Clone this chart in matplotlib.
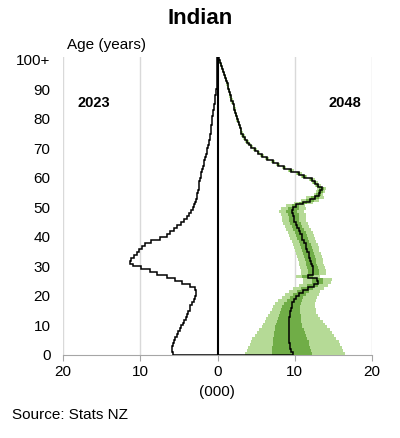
import numpy as np
import matplotlib
matplotlib.use('Agg')
import matplotlib.pyplot as plt

plt.rcParams['font.family'] = ['Liberation Sans', 'DejaVu Sans']

# single-year ages 0..100+ (thousands)
ages = np.arange(0, 102)  # bin edges

pop_2023 = [
    5.8, 5.9, 5.9, 5.8, 5.6, 5.5, 5.3, 5.1, 4.9, 4.7,
    4.5, 4.3, 4.1, 3.9, 3.8, 3.6, 3.5, 3.3, 3.1, 2.9,
    2.8, 2.8, 2.9, 3.6, 4.6, 5.5, 6.6, 7.8, 8.8, 9.9,
    10.9, 11.3, 11.2, 10.8, 10.4, 10.1, 9.8, 9.4, 8.6, 7.4,
    6.6, 6.1, 5.6, 5.2, 4.7, 4.3, 4.0, 3.7, 3.4, 3.2,
    3.0, 2.9, 2.8, 2.7, 2.6, 2.5, 2.45, 2.4, 2.35, 2.3,
    2.2, 2.1, 2.0, 1.9, 1.8, 1.7, 1.6, 1.5, 1.4, 1.3,
    1.2, 1.15, 1.1, 1.0, 0.95, 0.9, 0.85, 0.8, 0.75, 0.7,
    0.65, 0.6, 0.55, 0.5, 0.45, 0.38, 0.32, 0.26, 0.2, 0.15,
    0.12, 0.1, 0.08, 0.06, 0.05, 0.04, 0.03, 0.02, 0.02, 0.01,
    0.01,
]

median_2048 = [
    9.8, 9.5, 9.4, 9.35, 9.3, 9.3, 9.25, 9.2, 9.2, 9.2,
    9.25, 9.3, 9.3, 9.35, 9.4, 9.5, 9.6, 9.7, 9.9, 10.2,
    10.6, 11.1, 11.7, 12.5, 13.0, 12.9, 11.7, 12.4, 12.4, 12.3,
    12.2, 12.1, 12.0, 11.9, 11.8, 11.6, 11.5, 11.4, 11.2, 11.0,
    10.9, 10.7, 10.5, 10.3, 10.1, 9.9, 9.9, 9.8, 9.6, 9.8,
    10.1, 11.1, 12.0, 12.6, 13.1, 13.3, 13.5, 13.0, 12.6, 12.2,
    11.2, 10.5, 9.5, 8.6, 7.8, 7.2, 6.4, 5.8, 5.3, 4.8,
    4.4, 4.1, 3.8, 3.5, 3.3, 3.1, 3.0, 2.9, 2.75, 2.6,
    2.5, 2.4, 2.3, 2.2, 2.1, 1.95, 1.8, 1.7, 1.6, 1.5,
    1.4, 1.3, 1.2, 1.1, 1.0, 0.85, 0.7, 0.55, 0.45, 0.3,
    0.15,
]

p5_2048 = [
    3.6, 3.8, 4.0, 4.2, 4.3, 4.5, 4.8, 5.1, 5.4, 5.7,
    5.9, 6.1, 6.3, 6.6, 6.8, 7.0, 7.2, 7.4, 7.8, 8.4,
    8.8, 9.2, 9.8, 10.5, 11.1, 11.1, 10.1, 10.8, 10.8, 10.7,
    10.6, 10.5, 10.4, 10.3, 10.2, 10.0, 9.9, 9.8, 9.6, 9.4,
    9.3, 9.1, 8.9, 8.7, 8.5, 8.3, 8.3, 8.2, 8.0, 8.2,
    8.9, 9.9, 10.8, 11.4, 12.5, 12.7, 12.9, 12.6, 12.2, 11.8,
    10.8, 10.1, 9.1, 8.35, 7.55, 6.95, 6.15, 5.55, 5.05, 4.55,
    4.15, 3.85, 3.55, 3.25, 3.05, 2.85, 2.85, 2.75, 2.6, 2.45,
    2.35, 2.25, 2.15, 2.05, 1.95, 1.8, 1.65, 1.55, 1.45, 1.35,
    1.25, 1.15, 1.05, 0.95, 0.85, 0.7, 0.55, 0.4, 0.3, 0.15,
    0.05,
]

p95_2048 = [
    16.5, 16.3, 16.1, 15.9, 15.7, 15.4, 15.1, 14.8, 14.6, 14.2,
    13.9, 13.6, 13.3, 13.0, 12.8, 12.7, 12.6, 12.6, 12.7, 12.9,
    13.1, 13.3, 13.8, 14.3, 14.7, 14.8, 13.3, 14.0, 14.0, 13.9,
    13.8, 13.7, 13.6, 13.5, 13.4, 13.2, 13.1, 13.0, 12.8, 12.6,
    12.5, 12.3, 12.1, 11.9, 11.7, 11.5, 11.5, 11.4, 11.2, 11.4,
    11.3, 12.3, 13.2, 13.8, 13.7, 13.9, 14.1, 13.4, 13.0, 12.6,
    11.6, 10.9, 9.9, 8.85, 8.05, 7.45, 6.65, 6.05, 5.55, 5.05,
    4.65, 4.35, 4.05, 3.75, 3.55, 3.35, 3.15, 3.05, 2.9, 2.75,
    2.65, 2.55, 2.45, 2.35, 2.25, 2.1, 1.95, 1.85, 1.75, 1.65,
    1.55, 1.45, 1.35, 1.25, 1.15, 1.0, 0.85, 0.7, 0.6, 0.45,
    0.25,
]

p25_2048 = [
    7.0, 7.05, 7.1, 7.15, 7.2, 7.2, 7.3, 7.35, 7.4, 7.5,
    7.6, 7.7, 7.8, 7.95, 8.1, 8.25, 8.4, 8.6, 9.0, 9.4,
    9.8, 10.3, 10.8, 11.6, 12.2, 12.2, 11.0, 11.7, 11.7, 11.6,
    11.5, 11.4, 11.3, 11.2, 11.1, 10.9, 10.8, 10.7, 10.5, 10.3,
    10.2, 10.0, 9.8, 9.6, 9.4, 9.2, 9.2, 9.1, 8.9, 9.1,
    9.6, 10.6, 11.5, 12.1, 12.8, 13.0, 13.2, 12.8, 12.4, 12.0,
    11.0, 10.3, 9.3, 8.48, 7.68, 7.08, 6.28, 5.68, 5.18, 4.68,
    4.28, 3.98, 3.68, 3.38, 3.18, 2.98, 2.93, 2.83, 2.68, 2.53,
    2.43, 2.33, 2.23, 2.13, 2.03, 1.88, 1.73, 1.63, 1.53, 1.43,
    1.33, 1.23, 1.13, 1.03, 0.93, 0.78, 0.63, 0.48, 0.38, 0.23,
    0.1,
]

p75_2048 = [
    12.2, 12.1, 12.0, 11.9, 11.8, 11.6, 11.5, 11.3, 11.2, 11.0,
    10.9, 10.85, 10.8, 10.75, 10.7, 10.7, 10.7, 10.8, 10.9, 11.1,
    11.4, 11.9, 12.4, 13.0, 13.6, 13.6, 12.4, 13.1, 13.1, 13.0,
    12.9, 12.8, 12.7, 12.6, 12.5, 12.3, 12.2, 12.1, 11.9, 11.7,
    11.6, 11.4, 11.2, 11.0, 10.8, 10.6, 10.6, 10.5, 10.3, 10.5,
    10.6, 11.6, 12.5, 13.1, 13.4, 13.6, 13.8, 13.2, 12.8, 12.4,
    11.4, 10.7, 9.7, 8.72, 7.92, 7.32, 6.52, 5.92, 5.42, 4.92,
    4.52, 4.22, 3.92, 3.62, 3.42, 3.22, 3.07, 2.97, 2.82, 2.67,
    2.57, 2.47, 2.37, 2.27, 2.17, 2.02, 1.87, 1.77, 1.67, 1.57,
    1.47, 1.37, 1.27, 1.17, 1.07, 0.92, 0.77, 0.62, 0.52, 0.37,
    0.2,
]

yticks = [0, 10, 20, 30, 40, 50, 60, 70, 80, 90, 100]
ytick_labels = ['0', '10', '20', '30', '40', '50', '60', '70', '80', '90', '100+']
xticks = [-20, -10, 0, 10, 20]
xtick_labels = ['20', '10', '0', '10', '20']

light_green = '#B5DA96'
dark_green = '#70AD47'

fig = plt.figure(figsize=(4.0, 4.38), dpi=100)
ax = fig.add_axes([0.1575, 0.1895, 0.7725, 0.6805])

# gridlines
for x in [-20, -10, 10, 20]:
    ax.axvline(x, color='#d9d9d9', lw=1.0, zorder=0)

# projection bands
ax.stairs(p95_2048, ages, baseline=p5_2048, fill=True, orientation='horizontal',
          color=light_green, lw=0, zorder=1)
ax.stairs(p75_2048, ages, baseline=p25_2048, fill=True, orientation='horizontal',
          color=dark_green, lw=0, zorder=2)

# lines
ax.stairs(-np.array(pop_2023), ages, baseline=0, orientation='horizontal',
          color='black', lw=1.1, zorder=3)
ax.stairs(median_2048, ages, baseline=0, orientation='horizontal',
          color='black', lw=1.1, zorder=3)
ax.axvline(0, color='black', lw=1.5, zorder=4)

ax.set_xlim(-20, 20)
ax.set_ylim(0, 101)
ax.set_xticks(xticks)
ax.set_xticklabels(xtick_labels, fontsize=11)
ax.set_yticks(yticks)
ax.set_yticklabels(ytick_labels, fontsize=11)
ax.tick_params(axis='y', length=0, pad=9)
ax.tick_params(axis='x', length=4, color='#a6a6a6', pad=3)

for s in ['top', 'right', 'left']:
    ax.spines[s].set_visible(False)
ax.spines['bottom'].set_color('#a6a6a6')
ax.spines['bottom'].set_zorder(0)

ax.text(-16.0, 85.5, '2023', fontsize=10.5, fontweight='bold', ha='center', va='center')
ax.text(16.5, 85.5, '2048', fontsize=10.5, fontweight='bold', ha='center', va='center')

fig.text(0.5, 0.958, 'Indian', fontsize=16, fontweight='bold', ha='center', va='center')
fig.text(0.167, 0.897, 'Age (years)', fontsize=11, ha='left', va='center')
fig.text(0.543, 0.105, '(000)', fontsize=11, ha='center', va='center')
fig.text(0.03, 0.052, 'Source: Stats NZ', fontsize=11, ha='left', va='center')

fig.savefig('out.png', dpi=100)
